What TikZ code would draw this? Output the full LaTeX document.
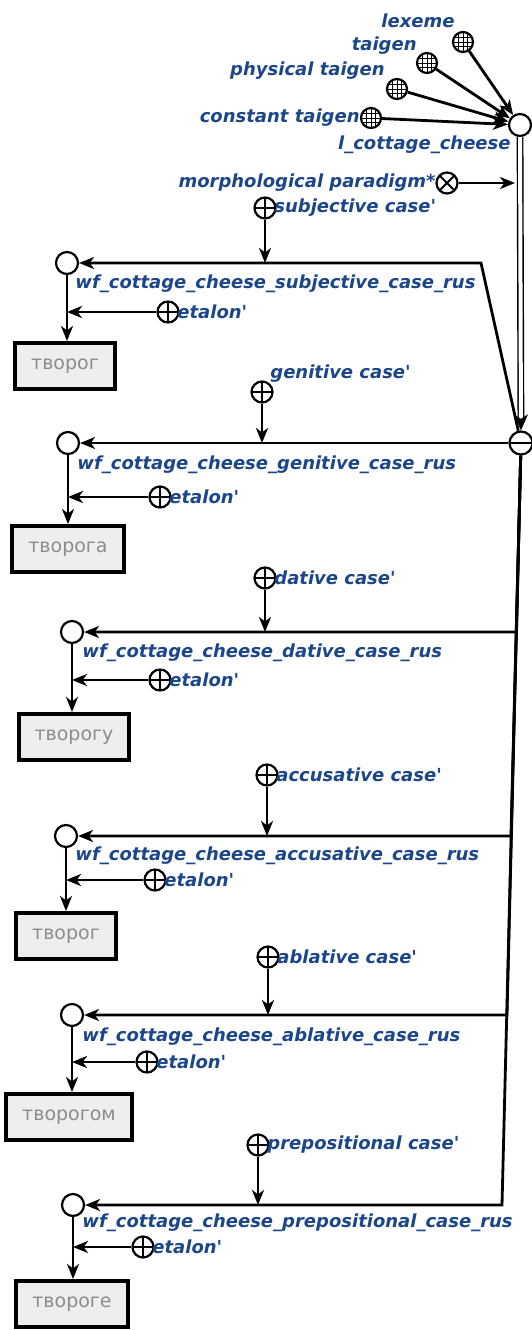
\documentclass[tikz,border=0pt]{standalone}
\usepackage{fontspec}
\setmainfont{DejaVu Sans}
\usetikzlibrary{arrows.meta}
\definecolor{scgblue}{RGB}{28,70,138}
\definecolor{linkfill}{RGB}{238,238,238}
\definecolor{linktext}{RGB}{140,140,140}
\begin{document}
\begin{tikzpicture}[x=0.5pt,y=-0.5pt,>={Stealth[length=7.5pt,width=6pt,inset=2.2pt]},
    arc/.style={line width=1.4pt},
    vert/.style={circle,draw,line width=1.1pt,minimum size=11pt,inner sep=0pt},
    role/.style={vert,minimum size=10.5pt,path picture={
        \draw[line width=1pt] (path picture bounding box.north) -- (path picture bounding box.south);
        \draw[line width=1pt] (path picture bounding box.west) -- (path picture bounding box.east);}},
    norole/.style={vert,minimum size=10.5pt,path picture={
        \draw[line width=1pt] (path picture bounding box.north west) -- (path picture bounding box.south east);
        \draw[line width=1pt] (path picture bounding box.north east) -- (path picture bounding box.south west);}},
    tuple/.style={vert,minimum size=11.5pt,path picture={
        \draw[line width=1pt] (path picture bounding box.west) -- (path picture bounding box.east);}},
    klass/.style={vert,minimum size=10pt,path picture={
        \foreach \d in {-2.3pt,0pt,2.3pt}{
          \draw[line width=0.5pt] ([xshift=\d]path picture bounding box.north) -- ([xshift=\d]path picture bounding box.south);
          \draw[line width=0.5pt] ([yshift=\d]path picture bounding box.west) -- ([yshift=\d]path picture bounding box.east);}}},
    lbl/.style={font=\fontsize{9}{10}\selectfont\bfseries\itshape,text=scgblue,inner sep=0pt},
    link/.style={draw,line width=2pt,fill=linkfill,minimum height=23pt,minimum width=44pt,inner xsep=8pt,
        text=linktext,font=\fontsize{9.5}{11}\selectfont,
        path picture={\fill (path picture bounding box.north west) -- ++(5pt,0pt) -- ++(-5pt,-5pt) -- cycle;}}]
    \useasboundingbox (0,0) rectangle (531,1330);

    \node[klass] (lex) at (463,42) {};
    \node[klass] (tai) at (427,63) {};
    \node[klass] (phy) at (397,89) {};
    \node[klass] (con) at (371,118) {};
    \node[vert] (lcc) at (520,125) {};
    \node[norole] (morph) at (447,183) {};
    \node[tuple] (tup) at (521,443) {};
    \node[lbl,anchor=east] (tlex) at (455,21) {lexeme};
    \node[lbl,anchor=east] (ttai) at (417,46) {taigen};
    \node[lbl,anchor=east] (tphy) at (385,71) {physical taigen};
    \node[lbl,anchor=east] (tcon) at (360,118) {constant taigen};
    \node[lbl,anchor=east] (tlcc) at (511,145) {l\_cottage\_cheese};
    \node[lbl,anchor=east] (tmorph) at (436,183) {morphological paradigm*};
    \coordinate (mp) at (515,183);
    \draw[arc,->] (lex) -- (lcc);
    \draw[arc,->] (tai) -- (lcc);
    \draw[arc,->] (phy) -- (lcc);
    \draw[arc,->] (con) -- (lcc);
    \draw[line width=0.7pt,double distance=2pt,-{Stealth[length=8pt,width=7pt,inset=2.2pt]}] (lcc) -- (tup);
    \draw[arc,->] (morph) -- (mp);

    \node[role] (rsubj) at (265,208) {};
    \node[lbl,anchor=west] (tsubj) at (274,208) {subjective case\textquotesingle};
    \node[vert] (wsubj) at (67,263) {};
    \node[lbl,anchor=west] (twsubj) at (75,284) {wf\_cottage\_cheese\_subjective\_case\_rus};
    \node[role] (esubj) at (168,312) {};
    \node[lbl,anchor=west] (tesubj) at (177,312) {etalon\textquotesingle};
    \node[link] (bsubj) at (65,366) {творог};
    \coordinate (csubj) at (481,263);
    \draw[arc,->] (tup) -- (csubj) -- (wsubj);
    \draw[arc,->] (rsubj) -- (rsubj |- wsubj);
    \draw[arc,->] (esubj) -- (esubj -| wsubj);
    \draw[arc,->] (wsubj) -- (wsubj |- bsubj.north);

    \node[role] (rgen) at (262,392) {};
    \node[lbl,anchor=west] (tgen) at (270,374) {genitive case\textquotesingle};
    \node[vert] (wgen) at (68,443) {};
    \node[lbl,anchor=west] (twgen) at (77,465) {wf\_cottage\_cheese\_genitive\_case\_rus};
    \node[role] (egen) at (160,497) {};
    \node[lbl,anchor=west] (tegen) at (169,497) {etalon\textquotesingle};
    \node[link] (bgen) at (68,549) {творога};
    \draw[arc,->] (tup) -- (wgen);
    \draw[arc,->] (rgen) -- (rgen |- wgen);
    \draw[arc,->] (egen) -- (egen -| wgen);
    \draw[arc,->] (wgen) -- (wgen |- bgen.north);

    \node[role] (rdat) at (265,578) {};
    \node[lbl,anchor=west] (tdat) at (274,578) {dative case\textquotesingle};
    \node[vert] (wdat) at (72,632) {};
    \node[lbl,anchor=west] (twdat) at (82,653) {wf\_cottage\_cheese\_dative\_case\_rus};
    \node[role] (edat) at (160,680) {};
    \node[lbl,anchor=west] (tedat) at (169,680) {etalon\textquotesingle};
    \node[link] (bdat) at (74,737) {творогу};
    \coordinate (cdat) at (516.5,632);
    \draw[arc,->] (tup) -- (cdat) -- (wdat);
    \draw[arc,->] (rdat) -- (rdat |- wdat);
    \draw[arc,->] (edat) -- (edat -| wdat);
    \draw[arc,->] (wdat) -- (wdat |- bdat.north);

    \node[role] (racc) at (267,775) {};
    \node[lbl,anchor=west] (tacc) at (276,775) {accusative case\textquotesingle};
    \node[vert] (wacc) at (66,836) {};
    \node[lbl,anchor=west] (twacc) at (75,856) {wf\_cottage\_cheese\_accusative\_case\_rus};
    \node[role] (eacc) at (155,880) {};
    \node[lbl,anchor=west] (teacc) at (164,880) {etalon\textquotesingle};
    \node[link] (bacc) at (66,936) {творог};
    \coordinate (cacc) at (511,836);
    \draw[arc,->] (tup) -- (cacc) -- (wacc);
    \draw[arc,->] (racc) -- (racc |- wacc);
    \draw[arc,->] (eacc) -- (eacc -| wacc);
    \draw[arc,->] (wacc) -- (wacc |- bacc.north);

    \node[role] (rabl) at (268,957) {};
    \node[lbl,anchor=west] (tabl) at (277,957) {ablative case\textquotesingle};
    \node[vert] (wabl) at (72,1015) {};
    \node[lbl,anchor=west] (twabl) at (82,1037) {wf\_cottage\_cheese\_ablative\_case\_rus};
    \node[role] (eabl) at (147,1062) {};
    \node[lbl,anchor=west] (teabl) at (156,1062) {etalon\textquotesingle};
    \node[link] (babl) at (69,1117) {творогом};
    \coordinate (cabl) at (507,1015);
    \draw[arc,->] (tup) -- (cabl) -- (wabl);
    \draw[arc,->] (rabl) -- (rabl |- wabl);
    \draw[arc,->] (eabl) -- (eabl -| wabl);
    \draw[arc,->] (wabl) -- (wabl |- babl.north);

    \node[role] (rprep) at (258,1145) {};
    \node[lbl,anchor=west] (tprep) at (267,1145) {prepositional case\textquotesingle};
    \node[vert] (wprep) at (73,1205) {};
    \node[lbl,anchor=west] (twprep) at (82,1223) {wf\_cottage\_cheese\_prepositional\_case\_rus};
    \node[role] (eprep) at (143,1247) {};
    \node[lbl,anchor=west] (teprep) at (152,1247) {etalon\textquotesingle};
    \node[link] (bprep) at (72,1304) {твороге};
    \coordinate (cprep) at (502,1205);
    \draw[arc,->] (tup) -- (cprep) -- (wprep);
    \draw[arc,->] (rprep) -- (rprep |- wprep);
    \draw[arc,->] (eprep) -- (eprep -| wprep);
    \draw[arc,->] (wprep) -- (wprep |- bprep.north);
\end{tikzpicture}
\end{document}
